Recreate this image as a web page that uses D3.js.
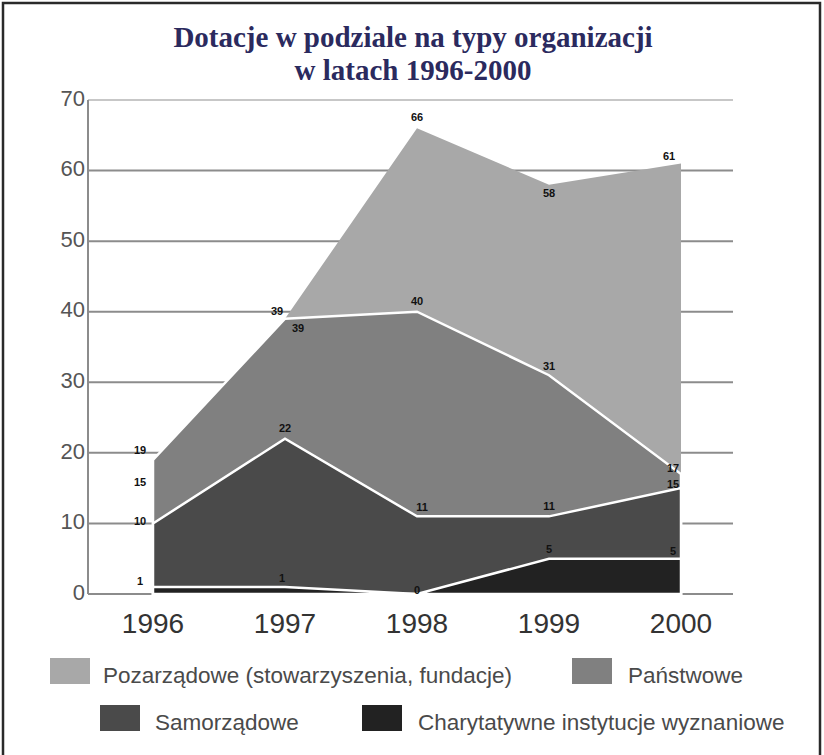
<!DOCTYPE html>
<html>
<head>
<meta charset="utf-8">
<script src="https://cdn.jsdelivr.net/npm/d3@7"></script>
<style>
  body { margin: 0; background: #fff; }
  svg { display: block; }
</style>
</head>
<body>
<svg id="chart" width="824" height="755"></svg>
<script>
// Data
const years = ['1996', '1997', '1998', '1999', '2000'];
const seriesNames = ['Pozarządowe (stowarzyszenia, fundacje)', 'Państwowe', 'Samorządowe', 'Charytatywne instytucje wyznaniowe'];
const pozarzadowe = [15, 39, 66, 58, 61];
const panstwowe = [19, 39, 40, 31, 17];
const samorzadowe = [10, 22, 11, 11, 15];
const charytatywne = [1, 1, 0, 5, 5];
const yTicks = [0, 10, 20, 30, 40, 50, 60, 70];

const colors = ['#a8a8a8', '#808080', '#4a4a4a', '#222222'];
const allSeries = [pozarzadowe, panstwowe, samorzadowe, charytatywne];

const svg = d3.select('#chart');

// outer frame
svg.append('rect')
    .attr('x', 3).attr('y', 3)
    .attr('width', 817).attr('height', 760)
    .attr('fill', 'none')
    .attr('stroke', '#2a2a2a')
    .attr('stroke-width', 2.5);

// title
const title = svg.append('text')
    .attr('text-anchor', 'middle')
    .style('font-family', '"Liberation Serif", serif')
    .style('font-weight', 'bold')
    .style('font-size', '29px')
    .attr('fill', '#2b2a5e');
title.append('tspan').attr('x', 413).attr('y', 47).text('Dotacje w podziale na typy organizacji');
title.append('tspan').attr('x', 413).attr('y', 80).text('w latach 1996-2000');

const margin = {top: 100, left: 88};
const width = 645;
const height = 494;

const g = svg.append('g')
    .attr('transform', `translate(${margin.left},${margin.top})`);

const x = d3.scalePoint()
    .domain(years)
    .range([65, 593]);

const y = d3.scaleLinear()
    .domain([0, 70])
    .range([height, 0]);

// gridlines
g.selectAll('.grid')
    .data(yTicks)
    .enter().append('line')
    .attr('class', 'grid')
    .attr('x1', 0)
    .attr('x2', width)
    .attr('y1', d => y(d))
    .attr('y2', d => y(d))
    .attr('stroke', d => d === 70 ? '#b5b5b5' : '#8c8c8c')
    .attr('stroke-width', d => d === 70 ? 1.5 : 2);

g.append('line')
    .attr('x1', 0).attr('x2', 0)
    .attr('y1', 0).attr('y2', height)
    .attr('stroke', '#8c8c8c')
    .attr('stroke-width', 2);

// y axis labels
g.selectAll('.ylab')
    .data(yTicks)
    .enter().append('text')
    .attr('class', 'ylab')
    .attr('x', -3)
    .attr('y', d => y(d) - 2)
    .attr('dy', '0.35em')
    .attr('text-anchor', 'end')
    .style('font-family', '"Liberation Sans", Arial, sans-serif')
    .style('font-size', '22px')
    .attr('fill', '#555')
    .text(d => d);

// areas, largest at the back
const area = d3.area()
    .x((d, i) => x(years[i]))
    .y0(y(0))
    .y1(d => y(d));

g.selectAll('.area')
    .data(allSeries)
    .enter().append('path')
    .attr('class', 'area')
    .attr('d', d => area(d))
    .attr('fill', (d, i) => colors[i])
    .attr('stroke', (d, i) => i === 0 ? 'none' : '#ffffff')
    .attr('stroke-width', 2.5)
    .attr('stroke-linejoin', 'miter');

// x labels
g.selectAll('.xlab')
    .data(years)
    .enter().append('text')
    .attr('class', 'xlab')
    .attr('x', d => x(d))
    .attr('y', height + 39)
    .attr('text-anchor', 'middle')
    .style('font-family', '"Liberation Sans", Arial, sans-serif')
    .style('font-size', '28px')
    .attr('fill', '#333')
    .text(d => d);

// value labels
const labelOffsets = [
    // [dx, dy] per series per year
    [[-13, -2], [-8, -4], [0, -7], [0, 12], [-12, -4]],
    [[-13, -6], [13, 13], [0, -7], [0, -5], [-8, -2]],
    [[-13, 2], [0, -7], [5, -5], [0, -6], [-8, 0]],
    [[-13, -2], [-3, -5], [0, 0], [0, -6], [-8, -4]]
];
allSeries.forEach((s, si) => {
    g.selectAll('.vlab' + si)
        .data(s)
        .enter().append('text')
        .attr('x', (d, i) => x(years[i]) + labelOffsets[si][i][0])
        .attr('y', (d, i) => y(d) + labelOffsets[si][i][1])
        .attr('text-anchor', 'middle')
        .style('font-family', '"Liberation Sans", Arial, sans-serif')
        .style('font-size', '11px')
        .style('font-weight', 'bold')
        .attr('fill', '#111')
        .text(d => d);
});

// legend
const legendPos = [
    {sx: 50, sy: 658, tx: 103, ty: 683},
    {sx: 572, sy: 658, tx: 628, ty: 683},
    {sx: 100, sy: 705, tx: 155, ty: 730},
    {sx: 362, sy: 705, tx: 418, ty: 730}
];
const legend = svg.selectAll('.legend')
    .data(seriesNames)
    .enter().append('g')
    .attr('class', 'legend');

legend.append('rect')
    .attr('x', (d, i) => legendPos[i].sx)
    .attr('y', (d, i) => legendPos[i].sy)
    .attr('width', 40)
    .attr('height', 26)
    .attr('fill', (d, i) => colors[i]);

legend.append('text')
    .attr('x', (d, i) => legendPos[i].tx)
    .attr('y', (d, i) => legendPos[i].ty)
    .style('font-family', '"Liberation Sans", Arial, sans-serif')
    .style('font-size', '22.5px')
    .attr('fill', '#4a4a4a')
    .text(d => d);
</script>
</body>
</html>
